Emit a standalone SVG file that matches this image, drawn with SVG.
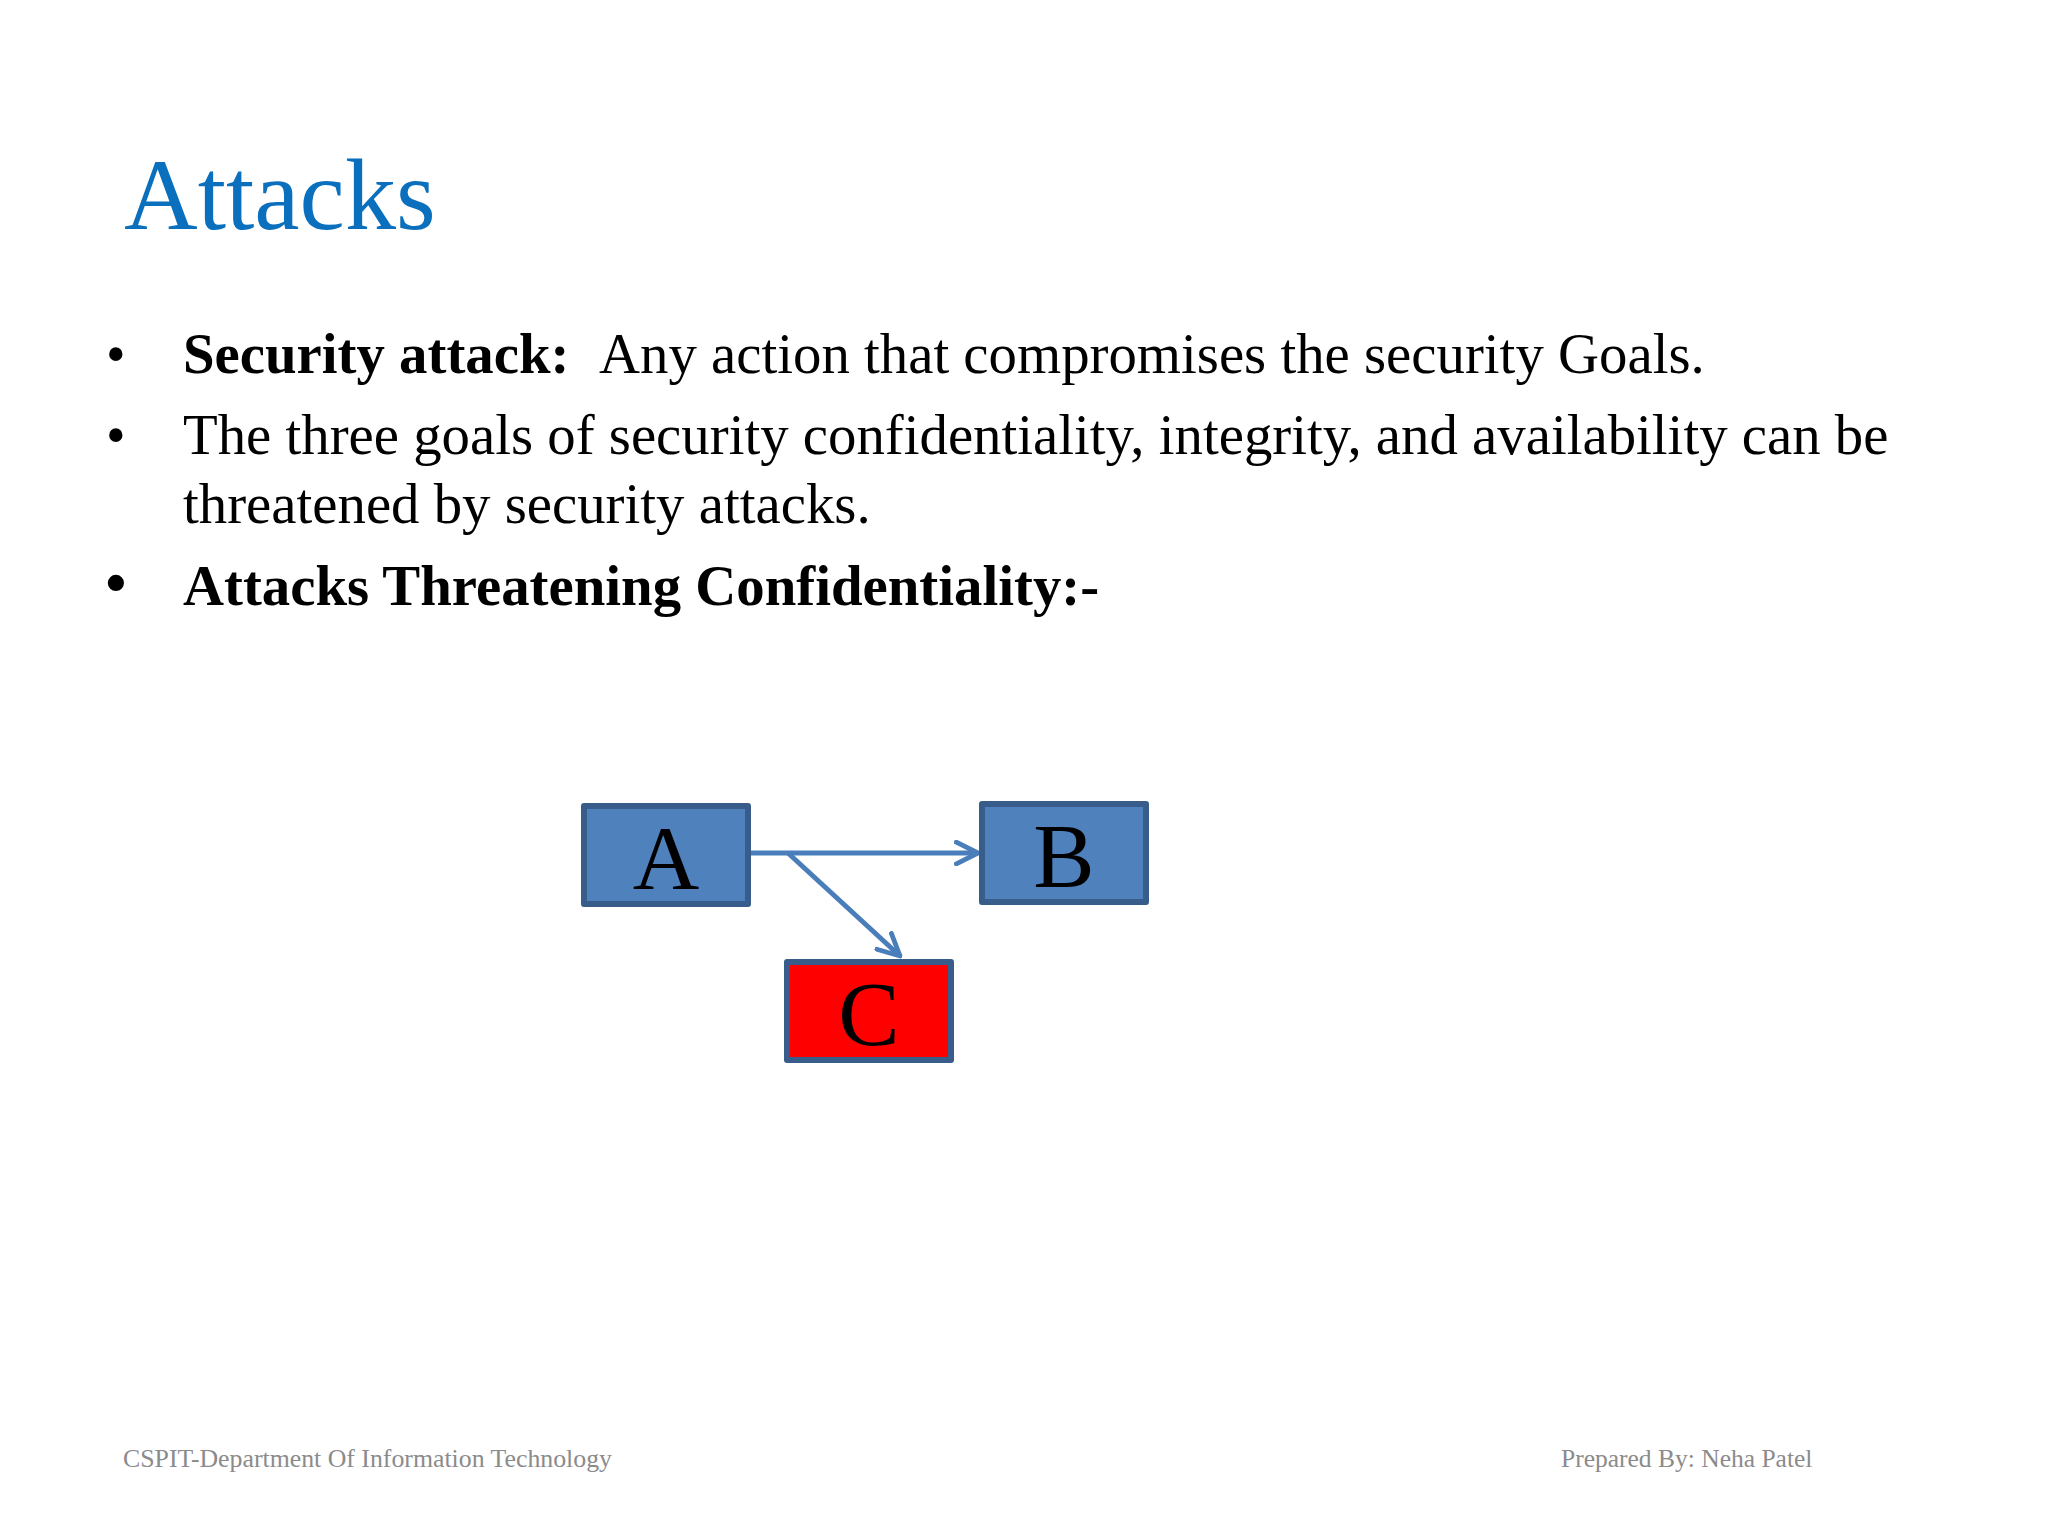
<svg xmlns="http://www.w3.org/2000/svg" width="2048" height="1536" viewBox="0 0 2048 1536">
<style>
text{font-family:"Liberation Serif",serif;fill:#000}
.b{font-size:56.8px}
.bd{font-weight:bold}
.f{font-size:25.8px;fill:#8b8b8b}
.n{font-size:92px;text-anchor:middle;fill:#000}
.box{stroke:#385d8a;stroke-width:6;stroke-linejoin:round}
.c{fill:none;stroke:#4a7ebb;stroke-width:5}
</style>
<defs><marker id="a" viewBox="0 0 12 12" refX="11" refY="6" markerWidth="26" markerHeight="26" markerUnits="userSpaceOnUse" orient="auto"><path d="M1 1L11 6L1 11" fill="none" stroke="#4a7ebb" stroke-width="2.2" stroke-linecap="round"/></marker></defs>
<rect width="2048" height="1536" fill="#fff"/>
<text x="124" y="229" font-size="102" style="fill:#0a70bd">Attacks</text>
<text x="106" y="373" font-size="56">•</text>
<text x="183" y="373" class="b"><tspan class="bd">Security attack:</tspan><tspan x="599">Any action that compromises the security Goals.</tspan></text>
<text x="106" y="454" font-size="56">•</text>
<text x="183" y="454" class="b">The three goals of security confidentiality, integrity, and availability can be</text>
<text x="183" y="523" class="b">threatened by security attacks.</text>
<text x="104" y="605" font-size="68">•</text>
<text x="183" y="605" class="b bd">Attacks Threatening Confidentiality:-</text>
<g id="connectors">
<path class="c" d="M750 853H978" marker-end="url(#a)"/>
<path class="c" d="M788 853L900 956" marker-end="url(#a)"/>
</g>
<g id="A"><rect class="box" x="584" y="806" width="164" height="98" fill="#4f81bd"/><text class="n" x="666" y="889">A</text></g>
<g id="B"><rect class="box" x="982" y="804" width="164" height="98" fill="#4f81bd"/><text class="n" x="1064" y="887">B</text></g>
<g id="C"><rect class="box" x="787" y="962" width="164" height="98" fill="#f00"/><text class="n" x="869" y="1045">C</text></g>
<text x="123" y="1467" class="f">CSPIT-Department Of Information Technology</text>
<text x="1561" y="1467" class="f" style="font-size:25.5px">Prepared By: Neha Patel</text>
</svg>
